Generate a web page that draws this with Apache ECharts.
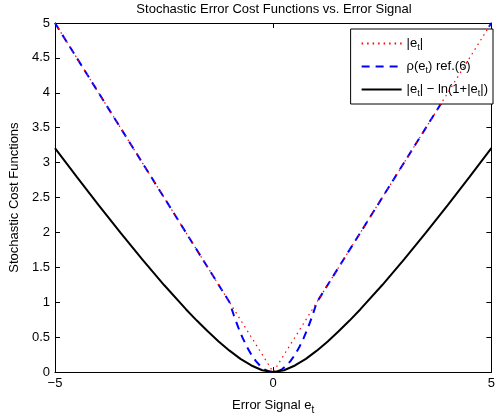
<!DOCTYPE html>
<html>
<head>
<meta charset="utf-8">
<script src="https://cdn.jsdelivr.net/npm/echarts@6/dist/echarts.min.js"></script>
<style>
html,body{margin:0;padding:0;background:#fff;}
#chart{width:498px;height:420px;}
</style>
</head>
<body>
<div id="chart"></div>
<script>
// |e_t| (red dotted)
const eAbs = [-5, 0, 5];
const absVals = [5, 0, 5];

// rho(e_t) ref.(6) (blue dashed)
const eRho = [-5, -1, -0.9, -0.8, -0.7, -0.6, -0.5, -0.4, -0.3, -0.2, -0.1, 0,
              0.1, 0.2, 0.3, 0.4, 0.5, 0.6, 0.7, 0.8, 0.9, 1, 5];
const rhoVals = [5, 1, 0.81, 0.64, 0.49, 0.36, 0.25, 0.16, 0.09, 0.04, 0.01, 0,
                 0.01, 0.04, 0.09, 0.16, 0.25, 0.36, 0.49, 0.64, 0.81, 1, 5];

// |e_t| - ln(1+|e_t|) (black solid)
const eCost = [-5, -4.5, -4, -3.5, -3, -2.5, -2, -1.75, -1.5, -1.25, -1, -0.75, -0.5, -0.25, 0,
               0.25, 0.5, 0.75, 1, 1.25, 1.5, 1.75, 2, 2.5, 3, 3.5, 4, 4.5, 5];
const costVals = [3.208, 2.795, 2.391, 1.996, 1.614, 1.247, 0.901, 0.738, 0.584, 0.439, 0.307, 0.190, 0.095, 0.027, 0,
                  0.027, 0.095, 0.190, 0.307, 0.439, 0.584, 0.738, 0.901, 1.247, 1.614, 1.996, 2.391, 2.795, 3.208];

const xTickValues = [-5, 0, 5];
const yTickLabels = ['0', '0.5', '1', '1.5', '2', '2.5', '3', '3.5', '4', '4.5', '5'];

const FONT = '"Liberation Sans", Arial, Helvetica, sans-serif';
const zip = (xs, ys) => xs.map((x, i) => [x, ys[i]]);

const legendText = {
  abs: '{n||e}{s|t}{n||}',
  rho: '{n|ρ(e}{s|t}{n|) ref.(6)}',
  cost: '{n||e}{s|t}{n|| − ln(1+|e}{s|t}{n||)}'
};

const axisLineStyle = { color: '#000', width: 1 };

const chart = echarts.init(document.getElementById('chart'), null, { renderer: 'canvas' });
chart.setOption({
  animation: false,
  backgroundColor: '#fff',
  textStyle: { fontFamily: FONT },
  title: {
    text: 'Stochastic Error Cost Functions vs. Error Signal',
    left: 274,
    textAlign: 'center',
    top: 3,
    padding: 0,
    textStyle: { fontFamily: FONT, fontSize: 13, fontWeight: 'normal', color: '#000' }
  },
  grid: { left: 51, right: 1, top: 23, bottom: 44, containLabel: false },
  legend: {
    orient: 'vertical',
    right: 5,
    top: 29,
    padding: [6, 5, 6, 10],
    itemWidth: 40,
    itemHeight: 14,
    itemGap: 6,
    backgroundColor: '#fff',
    borderColor: '#000',
    borderWidth: 1,
    borderRadius: 0,
    itemStyle: { opacity: 0 },
    data: ['abs', 'rho', 'cost'],
    formatter: name => legendText[name],
    textStyle: {
      fontFamily: FONT,
      color: '#000',
      rich: {
        n: { fontFamily: FONT, fontSize: 13, lineHeight: 14, color: '#000', verticalAlign: 'middle' },
        s: { fontFamily: FONT, fontSize: 9, lineHeight: 10, color: '#000', padding: [8, 0, 0, 0], verticalAlign: 'middle' }
      }
    }
  },
  xAxis: [{
    type: 'value', min: -5, max: 5, interval: 5, position: 'bottom',
    axisLine: { show: true, onZero: false, lineStyle: axisLineStyle },
    axisTick: { show: true, inside: true, length: 5, lineStyle: axisLineStyle },
    axisLabel: {
      color: '#000', fontSize: 13, fontFamily: FONT, margin: 5,
      formatter: v => xTickValues.includes(v) ? (v < 0 ? '−' + Math.abs(v) : String(v)) : ''
    },
    splitLine: { show: false },
    name: '{n|Error Signal e}{s|t}',
    nameLocation: 'middle',
    nameGap: 17,
    nameTextStyle: {
      rich: {
        n: { fontFamily: FONT, fontSize: 13, lineHeight: 14, color: '#000', verticalAlign: 'middle' },
        s: { fontFamily: FONT, fontSize: 10, lineHeight: 10, color: '#000', padding: [10, 0, 0, 0], verticalAlign: 'middle' }
      }
    }
  }, {
    type: 'value', min: -5, max: 5, interval: 5, position: 'top',
    axisLine: { show: true, onZero: false, lineStyle: axisLineStyle },
    axisTick: { show: true, inside: true, length: 5, lineStyle: axisLineStyle },
    axisLabel: { show: false },
    splitLine: { show: false }
  }],
  yAxis: [{
    type: 'value', min: 0, max: 5, interval: 0.5, position: 'left',
    axisLine: { show: true, onZero: false, lineStyle: axisLineStyle },
    axisTick: { show: true, inside: true, length: 5, lineStyle: axisLineStyle },
    axisLabel: {
      color: '#000', fontSize: 13, fontFamily: FONT, margin: 5,
      formatter: v => yTickLabels[Math.round(v * 2)]
    },
    splitLine: { show: false },
    name: 'Stochastic Cost Functions',
    nameLocation: 'middle',
    nameGap: 30,
    nameTextStyle: { fontFamily: FONT, fontSize: 13, color: '#000' }
  }, {
    type: 'value', min: 0, max: 5, interval: 0.5, position: 'right',
    axisLine: { show: true, onZero: false, lineStyle: axisLineStyle },
    axisTick: { show: true, inside: true, length: 5, lineStyle: axisLineStyle },
    axisLabel: { show: false },
    splitLine: { show: false }
  }],
  series: [{
    name: 'abs', type: 'line', xAxisIndex: 0, yAxisIndex: 0,
    data: zip(eAbs, absVals), symbol: 'none', z: 4,
    itemStyle: { color: '#ff0000' },
    lineStyle: { color: '#ff0000', width: 1.2, type: [1.5, 4] }
  }, {
    name: 'rho', type: 'line', xAxisIndex: 0, yAxisIndex: 0,
    data: zip(eRho, rhoVals), symbol: 'none', z: 3,
    itemStyle: { color: '#0000ff' },
    lineStyle: { color: '#0000ff', width: 2, type: [8, 6] }
  }, {
    name: 'cost', type: 'line', xAxisIndex: 0, yAxisIndex: 0,
    data: zip(eCost, costVals), symbol: 'none', z: 5,
    itemStyle: { color: '#000' },
    lineStyle: { color: '#000', width: 2, type: 'solid' }
  }]
});
</script>
</body>
</html>
